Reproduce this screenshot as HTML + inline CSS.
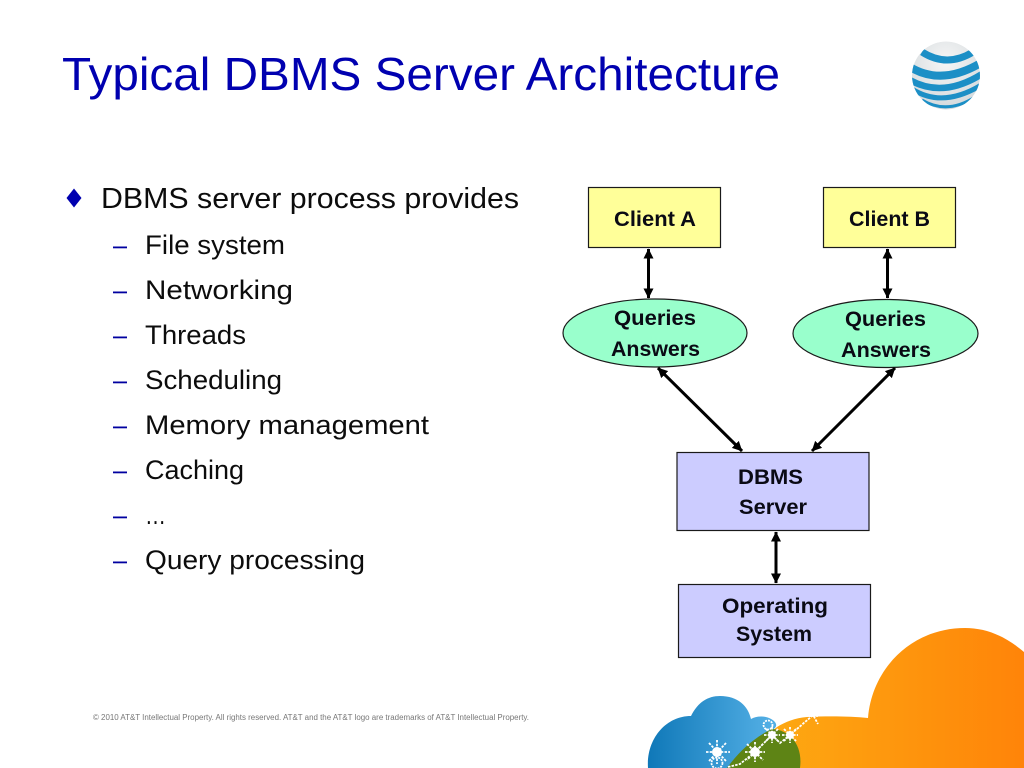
<!DOCTYPE html>
<html lang="en">
<head>
<meta charset="utf-8">
<title>Typical DBMS Server Architecture</title>
<style>
html,body{margin:0;padding:0;background:#fff}
svg{display:block}
text{font-family:"Liberation Sans",sans-serif}
.t{font-size:26.5px;fill:#0c0c0c}
.b{font-weight:bold;font-size:21px;fill:#0a0a14}
</style>
</head>
<body>
<svg width="1024" height="768" viewBox="0 0 1024 768" xmlns="http://www.w3.org/2000/svg">
<defs>
<linearGradient id="og" x1="760" x2="1024" y1="0" y2="0" gradientUnits="userSpaceOnUse"><stop offset="0" stop-color="#fdaa12"/><stop offset="1" stop-color="#ff8409"/></linearGradient>
<linearGradient id="bg" x1="648" x2="770" y1="0" y2="0" gradientUnits="userSpaceOnUse"><stop offset="0" stop-color="#0f78b8"/><stop offset="1" stop-color="#52aee4"/></linearGradient>
<radialGradient id="gl" cx="946" cy="62" r="46" gradientUnits="userSpaceOnUse"><stop offset="0" stop-color="#f6f6f6"/><stop offset="1" stop-color="#d4dadd"/></radialGradient>
<clipPath id="gc"><circle cx="946" cy="75.500" r="34"/></clipPath>
<marker id="ah" markerWidth="12" markerHeight="12" refX="9.500" refY="5" orient="auto-start-reverse" markerUnits="userSpaceOnUse"><path d="M0 0L10 5L0 10z" fill="#000"/></marker>
</defs>

<text x="62" y="90" font-size="46" fill="#0000b0" textLength="718" lengthAdjust="spacingAndGlyphs">Typical DBMS Server Architecture</text>

<g clip-path="url(#gc)">
<circle cx="946" cy="75.500" r="34" fill="url(#gl)"/>
<g fill="none" stroke="#1c8fc6">
<path d="M922 52Q947 68 973 52" stroke-width="7"/>
<path d="M910 67Q943 87 984 61" stroke-width="8"/>
<path d="M908 79Q943 100 985 72" stroke-width="6.500"/>
<path d="M912 89Q943 109 983 84" stroke-width="5"/>
<path d="M922 100Q947 115 975 97" stroke-width="3"/>
</g>
</g>

<path d="M66.500 198L74 188.500L81.500 198L74 207.500z" fill="#0000b0"/>
<text x="101" y="208" fill="#0c0c0c" style="font-size:29px" textLength="418" lengthAdjust="spacingAndGlyphs">DBMS server process provides</text>
<g fill="#0000a0">
<rect x="113" y="246.500" width="14" height="1.800"/>
<rect x="113" y="291.500" width="14" height="1.800"/>
<rect x="113" y="336.500" width="14" height="1.800"/>
<rect x="113" y="381.500" width="14" height="1.800"/>
<rect x="113" y="426.500" width="14" height="1.800"/>
<rect x="113" y="471.500" width="14" height="1.800"/>
<rect x="113" y="516.500" width="14" height="1.800"/>
<rect x="113" y="561.500" width="14" height="1.800"/>
</g>
<text class="t" x="145" y="254" textLength="140" lengthAdjust="spacingAndGlyphs">File system</text>
<text class="t" x="145" y="299" textLength="148" lengthAdjust="spacingAndGlyphs">Networking</text>
<text class="t" x="145" y="344" textLength="101" lengthAdjust="spacingAndGlyphs">Threads</text>
<text class="t" x="145" y="389" textLength="137" lengthAdjust="spacingAndGlyphs">Scheduling</text>
<text class="t" x="145" y="434" textLength="284" lengthAdjust="spacingAndGlyphs">Memory management</text>
<text class="t" x="145" y="479" textLength="99" lengthAdjust="spacingAndGlyphs">Caching</text>
<text class="t" x="145" y="524" textLength="21" lengthAdjust="spacingAndGlyphs">…</text>
<text class="t" x="145" y="569" textLength="220" lengthAdjust="spacingAndGlyphs">Query processing</text>

<g stroke="#1a1a1a" stroke-width="1.200">
<rect x="588.500" y="187.500" width="132" height="60" fill="#ffff99"/>
<rect x="823.500" y="187.500" width="132" height="60" fill="#ffff99"/>
<ellipse cx="655" cy="333" rx="92" ry="34" fill="#99ffcc"/>
<ellipse cx="885.500" cy="333.500" rx="92.500" ry="34" fill="#99ffcc"/>
<rect x="677" y="452.500" width="192" height="78" fill="#ccccff"/>
<rect x="678.500" y="584.500" width="192" height="73" fill="#ccccff"/>
</g>

<g stroke="#000" stroke-width="3" fill="none">
<line x1="648.500" y1="249" x2="648.500" y2="298" marker-start="url(#ah)" marker-end="url(#ah)"/>
<line x1="887.500" y1="249" x2="887.500" y2="298" marker-start="url(#ah)" marker-end="url(#ah)"/>
<line x1="658" y1="368" x2="742" y2="451" marker-start="url(#ah)" marker-end="url(#ah)"/>
<line x1="895" y1="368" x2="812" y2="451" marker-start="url(#ah)" marker-end="url(#ah)"/>
<line x1="776" y1="532" x2="776" y2="583" marker-start="url(#ah)" marker-end="url(#ah)"/>
</g>

<text class="b" x="614" y="226" textLength="82" lengthAdjust="spacingAndGlyphs">Client A</text>
<text class="b" x="849" y="226" textLength="81" lengthAdjust="spacingAndGlyphs">Client B</text>
<text class="b" x="614" y="325" textLength="82" lengthAdjust="spacingAndGlyphs">Queries</text>
<text class="b" x="611" y="356" textLength="89" lengthAdjust="spacingAndGlyphs">Answers</text>
<text class="b" x="845" y="326" textLength="81" lengthAdjust="spacingAndGlyphs">Queries</text>
<text class="b" x="841" y="357" textLength="90" lengthAdjust="spacingAndGlyphs">Answers</text>
<text class="b" x="738" y="484" textLength="65" lengthAdjust="spacingAndGlyphs">DBMS</text>
<text class="b" x="739" y="514" textLength="68" lengthAdjust="spacingAndGlyphs">Server</text>
<text class="b" x="722" y="613" textLength="106" lengthAdjust="spacingAndGlyphs">Operating</text>
<text class="b" x="736" y="641" textLength="76" lengthAdjust="spacingAndGlyphs">System</text>

<text x="93" y="720" font-size="8" fill="#777" textLength="436" lengthAdjust="spacingAndGlyphs">© 2010 AT&amp;T Intellectual Property. All rights reserved. AT&amp;T and the AT&amp;T logo are trademarks of AT&amp;T Intellectual Property.</text>

<path d="M1024 652C1004 635 985 628 965 628C912 628 872 668 868 718C850 716 825 716 807 717C795 718 785 722 777 727L727 768H1024z" fill="url(#og)"/>
<path d="M648 768C646 740 665 716 691 716C698 702 708 696 720 696C738 696 748 706 751 719C758 715 768 716 774 721C778 725 776 728 772 730L727 768z" fill="url(#bg)"/>
<path d="M727 768C740 750 755 737 772 729C790 730 803 745 800 768z" fill="#5e8415"/>

<g stroke="#fff" fill="none" stroke-width="1.800" stroke-dasharray="2.500 1.200">
<path d="M728 767L740 764L755 752L772 735L780 743L790 735L812 716"/>
<path d="M706 752L730 752M717 740L717 764M709 743L726 761M726 743L709 761"/>
<path d="M745 752L765 752M755 742L755 762M747 744L763 760M763 744L747 760"/>
<path d="M764 735L780 735M772 727L772 743M766 729L778 741M778 729L766 741"/>
<path d="M782 735L798 735M790 727L790 743M784 729L796 741M796 729L784 741"/>
<path d="M805 716L818 716M812 713L818 724"/>
</g>
<circle cx="717" cy="752" r="5" fill="#fff"/>
<circle cx="755" cy="752" r="5" fill="#fff"/>
<circle cx="772" cy="735" r="4" fill="#fff"/>
<circle cx="790" cy="735" r="4" fill="#fff"/>
<circle cx="768" cy="725" r="4.500" fill="none" stroke="#fff" stroke-width="1.800" stroke-dasharray="2 1"/>
<circle cx="717" cy="763" r="5.500" fill="none" stroke="#fff" stroke-width="1.800" stroke-dasharray="2 1"/>
</svg>
</body>
</html>
